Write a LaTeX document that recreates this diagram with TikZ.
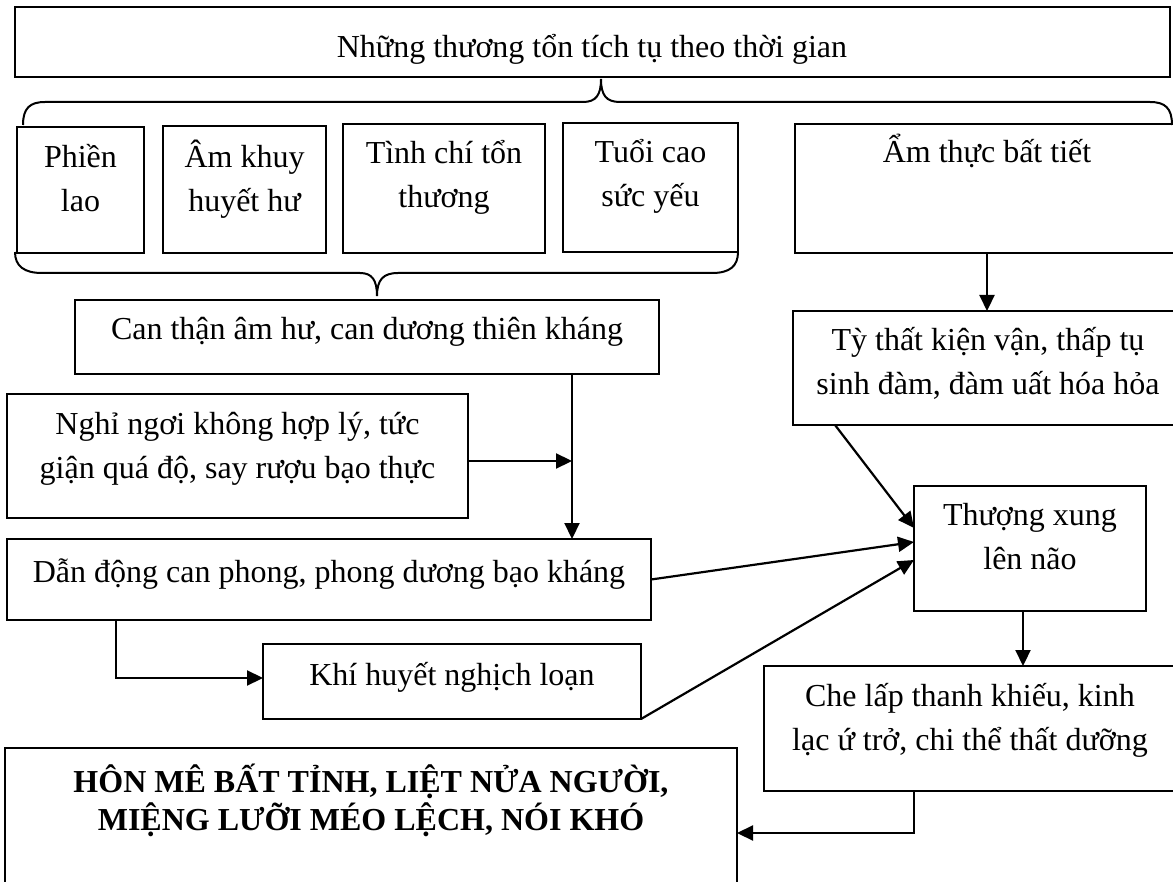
\documentclass[tikz,border=0pt]{standalone}
\usepackage{fontspec}
\setmainfont{Liberation Serif}
\usetikzlibrary{arrows.meta,calc}
\tikzset{
  box/.style={draw, line width=2pt, inner sep=0pt, outer sep=0pt, anchor=north west},
  txt/.style={inner sep=0pt, anchor=north, align=center, font=\fontsize{32pt}{44pt}\selectfont},
  arr/.style={line width=2.2pt, -{Triangle[length=16pt,width=15pt]}},
  bracepath/.style={line width=2pt},
}
\newcommand\mkbox[5]{\node[box, minimum width={#4pt-#2pt}, minimum height={#5pt-#3pt}] (#1) at (#2,#3) {};}
\newcommand\fr{\rule{0pt}{34pt}}
\begin{document}
\begin{tikzpicture}[x=1pt,y=-1pt]
\useasboundingbox (0,0) rectangle (1173,882);
\fill[white] (0,0) rectangle (1173,882);
\clip (0,0) rectangle (1173,882);

% boxes
\mkbox{top}{15}{7}{1170}{77}
\node[txt] (topT) at (592,23) {\fr Những thương tổn tích tụ theo thời gian};

\mkbox{phien}{17}{127}{144}{253}
\node[txt] (phienT) at (80.5,133) {\fr Phiền\\lao};
\mkbox{amkhuy}{163}{126}{326}{253}
\node[txt] (amkhuyT) at (244.5,133) {\fr Âm khuy\\huyết hư};
\mkbox{tinhchi}{343}{124}{545}{253}
\node[txt] (tinhchiT) at (444,129) {\fr Tình chí tổn\\thương};
\mkbox{tuoi}{563}{123}{738}{252}
\node[txt] (tuoiT) at (650.5,128) {\fr Tuổi cao\\sức yếu};
\mkbox{amthuc}{795}{124}{1179}{253}
\node[txt] (amthucT) at (987,128) {\fr Ẩm thực bất tiết};

\mkbox{canthan}{75}{300}{659}{374}
\node[txt] (canthanT) at (367,305) {\fr Can thận âm hư, can dương thiên kháng};
\mkbox{ty}{793}{311}{1183}{425}
\node[txt] (tyT) at (988,316) {\fr Tỳ thất kiện vận, thấp tụ\\sinh đàm, đàm uất hóa hỏa};
\mkbox{nghi}{7}{394}{468}{518}
\node[txt] (nghiT) at (237.5,400) {\fr Nghỉ ngơi không hợp lý, tức\\giận quá độ, say rượu bạo thực};
\mkbox{dan}{7}{539}{651}{620}
\node[txt] (danT) at (329,548) {\fr Dẫn động can phong, phong dương bạo kháng};
\mkbox{thuong}{914}{486}{1146}{611}
\node[txt] (thuongT) at (1030,491) {\fr Thượng xung\\lên não};
\mkbox{khi}{263}{644}{641}{719}
\node[txt] (khiT) at (452,651) {\fr Khí huyết nghịch loạn};
\mkbox{che}{764}{666}{1176}{791}
\node[txt] (cheT) at (970,672) {\fr Che lấp thanh khiếu, kinh\\lạc ứ trở, chi thể thất dưỡng};
\mkbox{hon}{5}{748}{737}{900}
\node[txt, font=\fontsize{32pt}{38pt}\selectfont\bfseries] (honT) at (371,758) {\fr HÔN MÊ BẤT TỈNH, LIỆT NỬA NGƯỜI,\\MIỆNG LƯỠI MÉO LỆCH, NÓI KHÓ};

% braces
\draw[bracepath] (23,125) .. controls (23,108) and (30,102) .. (45,102) -- (583,102)
  .. controls (596,102) and (601,95) .. (601,79)
  .. controls (601,95) and (606,102) .. (620,102) -- (1150,102)
  .. controls (1165,102) and (1172,108) .. (1172,125);
\draw[bracepath] (15,252) .. controls (15,266) and (24,273) .. (42,273) -- (360,273)
  .. controls (372,273) and (377,280) .. (377,296)
  .. controls (377,280) and (383,273) .. (398,273) -- (712,273)
  .. controls (730,273) and (738,266) .. (738,252);

% connectors
\coordinate (jx) at (572,461);
\coordinate (kx) at (116,678);
\coordinate (hx) at (914,833);
\draw[arr] (amthuc.south) -- (amthuc.south |- ty.north);
\draw[arr] (canthan.south -| jx) -- (dan.north -| jx);
\draw[arr] (nghi.east |- jx) -- (jx);
\draw[arr] (dan.south -| kx) -- (kx) -- (khi.west |- kx);
\draw[arr] (dan.east) -- ([yshift=6.5pt]thuong.west);
\draw[arr] (khi.south east) -- ([yshift=-11.5pt]thuong.west);
\draw[arr] ([xshift=42pt]ty.south west) -- ([yshift=20.5pt]thuong.west);
\draw[arr] ([xshift=-7pt]thuong.south) -- ([xshift=-7pt]thuong.south |- che.north);
\draw[arr] (che.south -| hx) -- (hx) -- (hon.east |- hx);
\end{tikzpicture}
\end{document}
